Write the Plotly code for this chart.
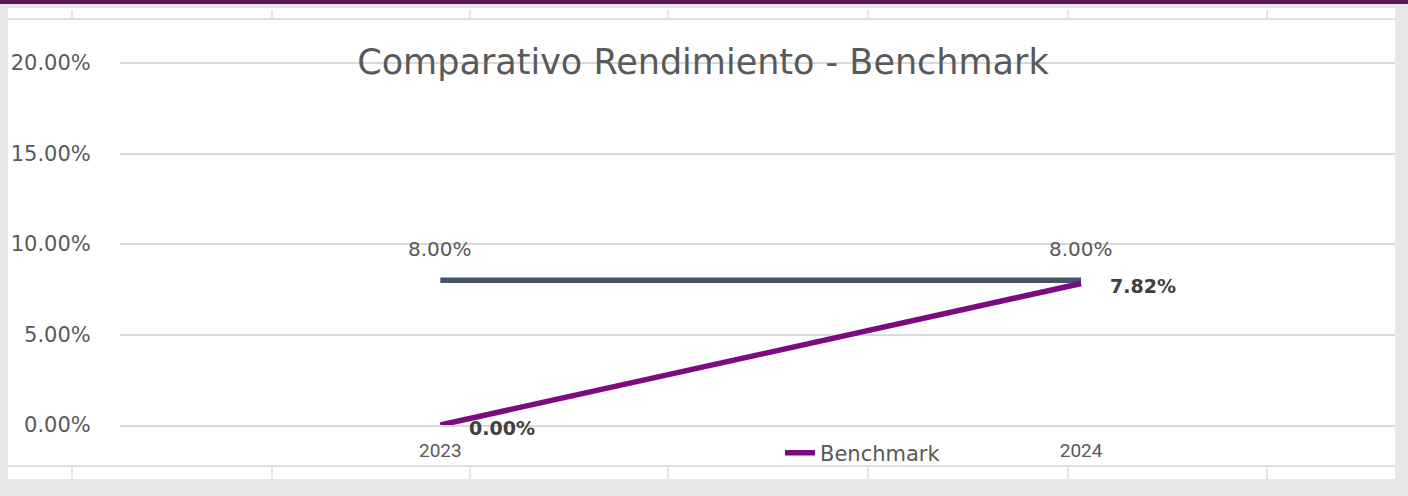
import plotly.graph_objects as go

# ---- data ----
years = ["2023", "2024"]
rendimiento = [0.08, 0.08]
benchmark = [0.0, 0.0782]
y_ticks = [0.0, 0.05, 0.10, 0.15, 0.20]
y_tick_labels = ["0.00%", "5.00%", "10.00%", "15.00%", "20.00%"]
title_text = "Comparativo Rendimiento - Benchmark"

# ---- layout geometry (pixels) ----
W, H = 1408, 496
L, R, T, B = 120, 13, 20, 71
PW, PH = W - L - R, H - T - B


def px(x):
    return (x - L) / PW


def py(y):
    return (H - B - y) / PH


GREY_TXT = "#595959"
PURPLE = "#7d0b80"
SLATE = "#44546a"

fig = go.Figure()
fig.add_trace(go.Scatter(
    x=years, y=rendimiento, mode="lines", name="Rendimiento",
    line=dict(color=SLATE, width=5.5), showlegend=False, cliponaxis=False,
))
fig.add_trace(go.Scatter(
    x=years, y=benchmark, mode="lines", name="Benchmark",
    line=dict(color=PURPLE, width=5.5), cliponaxis=False,
))

annotations = []
for i, yv in enumerate(rendimiento):
    annotations.append(dict(
        x=i, y=yv, xref="x", yref="y", text=f"{yv*100:.2f}%", showarrow=False,
        yshift=31, xanchor="center", yanchor="middle",
        font=dict(family="DejaVu Sans", size=20, color=GREY_TXT),
    ))
for i, yv in enumerate(benchmark):
    annotations.append(dict(
        x=i, y=yv, xref="x", yref="y", text=f"<b>{yv*100:.2f}%</b>", showarrow=False,
        xshift=27, yshift=-3, xanchor="left", yanchor="middle",
        font=dict(family="DejaVu Sans", size=19, color="#404040"),
    ))

shapes = []
# white sheet area
shapes.append(dict(type="rect", xref="paper", yref="paper", x0=px(8), x1=px(1395),
                   y0=py(479), y1=py(8), fillcolor="white", line=dict(width=0), layer="below"))
# purple top bar
shapes.append(dict(type="rect", xref="paper", yref="paper", x0=px(0), x1=px(W),
                   y0=py(4), y1=py(0), fillcolor="#5a1a4e", line=dict(width=0), layer="below"))
# cell grid lines
cell_x = [72, 272, 470, 668, 868, 1068, 1267]
shapes.append(dict(type="line", xref="paper", yref="paper", x0=px(8), x1=px(1395),
                   y0=py(19), y1=py(19), line=dict(color="#dedede", width=2)))
shapes.append(dict(type="line", xref="paper", yref="paper", x0=px(8), x1=px(1395),
                   y0=py(466), y1=py(466), line=dict(color="#dedede", width=2)))
for cx in cell_x:
    shapes.append(dict(type="line", xref="paper", yref="paper", x0=px(cx), x1=px(cx),
                       y0=py(10), y1=py(18), line=dict(color="#dedede", width=1.5)))
    shapes.append(dict(type="line", xref="paper", yref="paper", x0=px(cx), x1=px(cx),
                       y0=py(467), y1=py(479), line=dict(color="#dedede", width=1.5)))

fig.update_layout(
    width=W, height=H,
    margin=dict(l=L, r=R, t=T, b=B, pad=0),
    paper_bgcolor="#e8e6e8",
    plot_bgcolor="white",
    title=dict(text=title_text, x=703 / W, xref="container", xanchor="center",
               y=1 - 62 / H, yref="container", yanchor="middle",
               font=dict(family="DejaVu Sans", size=35, color=GREY_TXT)),
    xaxis=dict(type="category", range=[-0.5, 1.49], showgrid=False, zeroline=False,
               showline=True, linecolor="#d9d9d9", linewidth=2,
               ticks="outside", ticklen=7, tickcolor="rgba(0,0,0,0)",
               tickfont=dict(family="Liberation Sans Narrow, Roboto, sans-serif", size=19, color=GREY_TXT)),
    yaxis=dict(range=[0, 0.2238], tickvals=y_ticks, ticktext=y_tick_labels,
               showgrid=True, gridcolor="#d9d9d9", gridwidth=2, zeroline=False,
               ticks="outside", ticklen=24, tickcolor="rgba(0,0,0,0)",
               tickfont=dict(family="DejaVu Sans", size=21, color=GREY_TXT)),
    legend=dict(orientation="h", x=px(780), xanchor="left", y=py(453), yanchor="middle",
                bgcolor="rgba(0,0,0,0)",
                font=dict(family="DejaVu Sans", size=21, color=GREY_TXT)),
    annotations=annotations,
    shapes=shapes,
)

fig.write_html(
    "out.html",
    config={"displayModeBar": False},
    post_script="document.body.style.margin='0';document.body.style.padding='0';",
)
